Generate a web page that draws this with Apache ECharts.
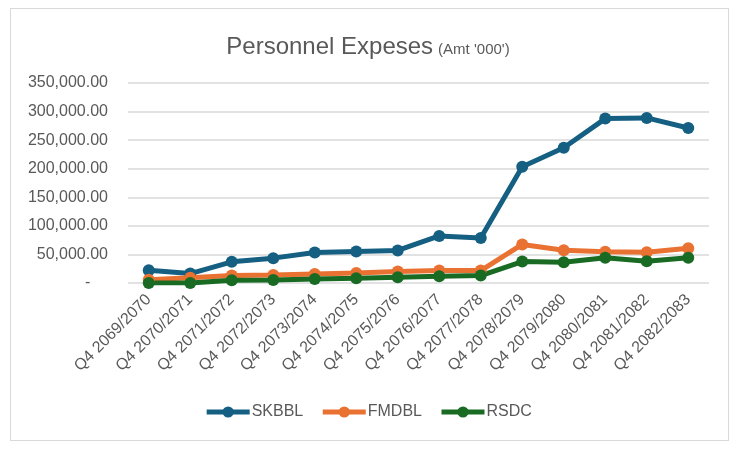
<!DOCTYPE html>
<html>
<head>
    <meta charset="utf-8">
    <title>Personnel Expeses</title>
    <script src="https://cdn.jsdelivr.net/npm/echarts@6/dist/echarts.min.js"></script>
    <style>
        body { margin: 0; background: #fff; }
        #frame { position: absolute; left: 10px; top: 8px; width: 717px; height: 431px; border: 1.5px solid #d9d9d9; }
        #main { position: absolute; left: 0; top: 0; width: 736px; height: 451px; }
    </style>
</head>
<body>
    <div id="frame"></div>
    <div id="main"></div>
    <script type="text/javascript">
        // categories and values
        var quarters = ['Q4 2069/2070', 'Q4 2070/2071', 'Q4 2071/2072', 'Q4 2072/2073', 'Q4 2073/2074',
            'Q4 2074/2075', 'Q4 2075/2076', 'Q4 2076/2077', 'Q4 2077/2078', 'Q4 2078/2079',
            'Q4 2079/2080', 'Q4 2080/2081', 'Q4 2081/2082', 'Q4 2082/2083'];
        var skbbl = [22300, 16500, 37000, 43500, 53500, 55300, 57000, 82300, 78800, 203300, 236700, 287700, 288900, 271300];
        var fmdbl = [5900, 9400, 13000, 14000, 15900, 17600, 20000, 21800, 21800, 67400, 57400, 54500, 53900, 60900];
        var rsdc = [0, 0, 4700, 5300, 7000, 8200, 10000, 11800, 13000, 37500, 36300, 44000, 38100, 44000];
        var seriesNames = ['SKBBL', 'FMDBL', 'RSDC'];
        var seriesColors = ['#156082', '#e97132', '#196b24'];

        var font = '"Liberation Sans", Arial, sans-serif';
        var grey = '#595959';

        var myChart = echarts.init(document.getElementById('main'));

        function makeLine(name, data, color) {
            return {
                name: name,
                type: 'line',
                data: data,
                symbol: 'circle',
                symbolSize: 12,
                lineStyle: { width: 5, color: color },
                itemStyle: { color: color },
                z: 2
            };
        }

        var option = {
            animation: false,
            title: {
                text: "{a|Personnel Expeses} {b|(Amt '000')}",
                left: 'center',
                top: 30,
                textStyle: {
                    fontWeight: 'normal',
                    rich: {
                        a: { fontFamily: font, fontSize: 24, fontWeight: 'normal', color: grey },
                        b: { fontFamily: font, fontSize: 15, fontWeight: 'normal', color: grey, padding: [5, 0, 0, 0] }
                    }
                }
            },
            legend: {
                data: seriesNames,
                bottom: 26,
                left: 'center',
                itemWidth: 43,
                itemHeight: 14,
                itemGap: 17,
                lineStyle: { width: 5 },
                textStyle: { fontFamily: font, fontSize: 16, color: grey, padding: [0, 0, 0, -3] }
            },
            grid: { left: 128, right: 27, top: 83, bottom: 168 },
            xAxis: {
                type: 'category',
                data: quarters,
                boundaryGap: true,
                axisLine: { show: false },
                axisTick: { show: false },
                axisLabel: { rotate: 45, interval: 0, margin: 14, fontFamily: font, fontSize: 16, color: grey }
            },
            yAxis: {
                type: 'value',
                min: 0,
                max: 350000,
                interval: 50000,
                axisLine: { show: false },
                axisTick: { show: false },
                splitLine: { lineStyle: { color: '#d9d9d9', width: 1.5 } },
                axisLabel: {
                    margin: 20,
                    fontFamily: font,
                    fontSize: 16,
                    color: grey,
                    formatter: function (v) {
                        if (v === 0) return '-    ';
                        return v.toLocaleString('en-US', { minimumFractionDigits: 2, maximumFractionDigits: 2 });
                    }
                }
            },
            series: [
                makeLine(seriesNames[0], skbbl, seriesColors[0]),
                makeLine(seriesNames[1], fmdbl, seriesColors[1]),
                makeLine(seriesNames[2], rsdc, seriesColors[2])
            ]
        };

        myChart.setOption(option);
    </script>
</body>
</html>
